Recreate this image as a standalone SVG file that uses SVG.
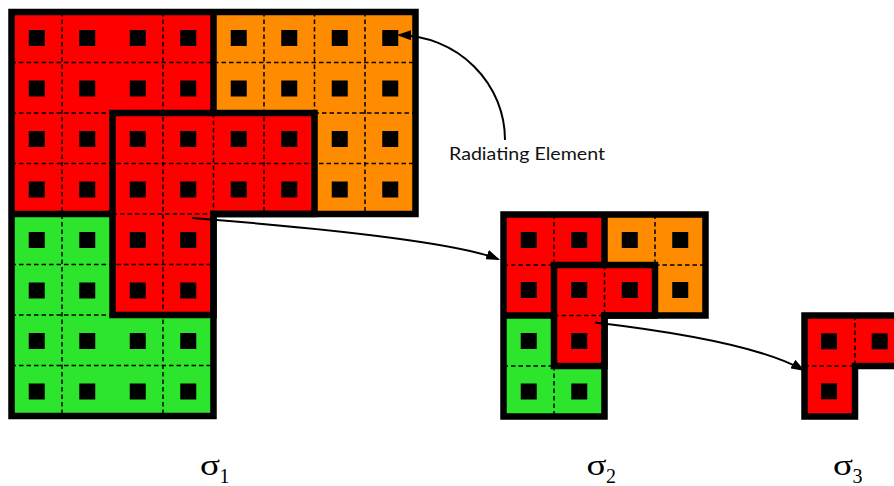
<svg xmlns="http://www.w3.org/2000/svg" width="894" height="486" viewBox="0 0 894 486">
  <defs>
    <style>
      .red { fill: #FF0000; }
      .orange { fill: #FF8C00; }
      .green { fill: #2EE52E; }
      .sq { fill: #000000; }
      .dash { fill: none; stroke: #000000; stroke-width: 1.5; stroke-dasharray: 4.5 3; }
      .edge { fill: none; stroke: #000000; stroke-width: 6.5; stroke-linejoin: miter; }
      .conn { fill: none; stroke: #000000; stroke-width: 2; }
      .sig { font-family: "Liberation Serif", "Times New Roman", serif; font-size: 30px; fill: #000000; }
      .sub { font-family: "Liberation Serif", "Times New Roman", serif; font-size: 20px; fill: #000000; }
      .note { font-family: Lato, "Liberation Sans", sans-serif; font-size: 18px; fill: #111111; }
    </style>
    <marker id="arrow" viewBox="0 0 14 10" refX="12" refY="5" markerWidth="14" markerHeight="10" markerUnits="userSpaceOnUse" orient="auto">
      <path d="M0,0 L14,5 L0,10 Z" fill="#000000"/>
    </marker>
  </defs>

  <rect width="894" height="486" fill="#FFFFFF"/>

  <!-- sigma 1: 8x8 array with an L-shaped sub-array -->
  <g id="sigma1">
    <rect class="orange" x="213.5" y="12" width="202" height="202"/>
    <rect class="green" x="11.5" y="214" width="202" height="202"/>
    <rect class="red" x="11.5" y="12" width="202" height="202"/>
    <path class="red" d="M112.5,113 H314.5 V214 H213.5 V315 H112.5 Z"/>
    <path class="dash" d="M62,12 V416 M163,12 V416 M213.5,113 V214 M264,12 V214 M314.5,12 V113 M365,12 V214
      M11.5,62.5 H415.5 M11.5,113 H112.5 M314.5,113 H415.5 M11.5,163.5 H415.5 M112.5,214 H213.5
      M11.5,264.5 H213.5 M11.5,315 H112.5 M11.5,365.5 H213.5"/>
    <g class="sq">
      <rect x="28.75" y="30" width="16" height="16"/><rect x="79.25" y="30" width="16" height="16"/><rect x="129.75" y="30" width="16" height="16"/><rect x="180.25" y="30" width="16" height="16"/>
      <rect x="230.75" y="30" width="16" height="16"/><rect x="281.25" y="30" width="16" height="16"/><rect x="331.75" y="30" width="16" height="16"/><rect x="382.25" y="30" width="16" height="16"/>
      <rect x="28.75" y="80.5" width="16" height="16"/><rect x="79.25" y="80.5" width="16" height="16"/><rect x="129.75" y="80.5" width="16" height="16"/><rect x="180.25" y="80.5" width="16" height="16"/>
      <rect x="230.75" y="80.5" width="16" height="16"/><rect x="281.25" y="80.5" width="16" height="16"/><rect x="331.75" y="80.5" width="16" height="16"/><rect x="382.25" y="80.5" width="16" height="16"/>
      <rect x="28.75" y="131" width="16" height="16"/><rect x="79.25" y="131" width="16" height="16"/><rect x="129.75" y="131" width="16" height="16"/><rect x="180.25" y="131" width="16" height="16"/>
      <rect x="230.75" y="131" width="16" height="16"/><rect x="281.25" y="131" width="16" height="16"/><rect x="331.75" y="131" width="16" height="16"/><rect x="382.25" y="131" width="16" height="16"/>
      <rect x="28.75" y="181.5" width="16" height="16"/><rect x="79.25" y="181.5" width="16" height="16"/><rect x="129.75" y="181.5" width="16" height="16"/><rect x="180.25" y="181.5" width="16" height="16"/>
      <rect x="230.75" y="181.5" width="16" height="16"/><rect x="281.25" y="181.5" width="16" height="16"/><rect x="331.75" y="181.5" width="16" height="16"/><rect x="382.25" y="181.5" width="16" height="16"/>
      <rect x="28.75" y="232" width="16" height="16"/><rect x="79.25" y="232" width="16" height="16"/><rect x="129.75" y="232" width="16" height="16"/><rect x="180.25" y="232" width="16" height="16"/>
      <rect x="28.75" y="282.5" width="16" height="16"/><rect x="79.25" y="282.5" width="16" height="16"/><rect x="129.75" y="282.5" width="16" height="16"/><rect x="180.25" y="282.5" width="16" height="16"/>
      <rect x="28.75" y="333" width="16" height="16"/><rect x="79.25" y="333" width="16" height="16"/><rect x="129.75" y="333" width="16" height="16"/><rect x="180.25" y="333" width="16" height="16"/>
      <rect x="28.75" y="383.5" width="16" height="16"/><rect x="79.25" y="383.5" width="16" height="16"/><rect x="129.75" y="383.5" width="16" height="16"/><rect x="180.25" y="383.5" width="16" height="16"/>
    </g>
    <path class="edge" d="M11.5,12 H415.5 V214 H213.5 V416 H11.5 Z"/>
    <path class="edge" d="M213.5,12 V113 M11.5,214 H112.5"/>
    <path class="edge" d="M112.5,113 H314.5 V214 H213.5 V315 H112.5 Z"/>
  </g>

  <!-- sigma 2: 4x4 array -->
  <g id="sigma2">
    <rect class="red" x="503.5" y="214.5" width="101" height="101"/>
    <rect class="orange" x="604.5" y="214.5" width="101" height="101"/>
    <rect class="green" x="503.5" y="315.5" width="101" height="101"/>
    <path class="red" d="M554,265 H655 V315.5 H604.5 V366 H554 Z"/>
    <path class="dash" d="M554,214.5 V265 M554,366 V416.5 M655,214.5 V265 M604.5,265 V315.5
      M503.5,265 H554 M655,265 H705.5 M554,315.5 H604.5 M503.5,366 H554"/>
    <g class="sq">
      <rect x="520.75" y="232" width="16" height="16"/><rect x="571.25" y="232" width="16" height="16"/><rect x="621.75" y="232" width="16" height="16"/><rect x="672.25" y="232" width="16" height="16"/>
      <rect x="520.75" y="282" width="16" height="16"/><rect x="571.25" y="282" width="16" height="16"/><rect x="621.75" y="282" width="16" height="16"/><rect x="672.25" y="282" width="16" height="16"/>
      <rect x="520.75" y="333" width="16" height="16"/><rect x="571.25" y="333" width="16" height="16"/>
      <rect x="520.75" y="383.5" width="16" height="16"/><rect x="571.25" y="383.5" width="16" height="16"/>
    </g>
    <path class="edge" d="M503.5,214.5 H705.5 V315.5 H604.5 V416.5 H503.5 Z"/>
    <path class="edge" d="M604.5,214.5 V265 M503.5,315.5 H554"/>
    <path class="edge" d="M554,265 H655 V315.5 H604.5 V366 H554 Z"/>
  </g>

  <!-- sigma 3: L-shaped 2x2 array -->
  <g id="sigma3">
    <path class="red" d="M804.5,315.5 H905 V366 H855 V416.5 H804.5 Z"/>
    <path class="dash" d="M855,315.5 V366 M804.5,366 H855"/>
    <g class="sq">
      <rect x="821" y="333.3" width="16" height="16"/><rect x="871.7" y="333.3" width="16" height="16"/>
      <rect x="821" y="383.3" width="16" height="16"/>
    </g>
    <path class="edge" d="M804.5,315.5 H905 V366 H855 V416.5 H804.5 Z"/>
  </g>

  <!-- connectors -->
  <g id="connectors">
    <path class="conn" d="M192,218 Q446,238 498.2,259.2" marker-end="url(#arrow)"/>
    <path class="conn" d="M595,322.5 Q752,341 803.3,370" marker-end="url(#arrow)"/>
    <path class="conn" d="M505,140 A108,105 0 0 0 399,35" marker-end="url(#arrow)"/>
  </g>

  <!-- labels -->
  <g id="label-radiating">
    <text class="note" x="449" y="160" textLength="156" lengthAdjust="spacingAndGlyphs">Radiating Element</text>
  </g>
  <g id="label-sigma1">
    <text class="sig" x="200" y="475" textLength="20" lengthAdjust="spacingAndGlyphs">σ</text>
    <text class="sub" x="219.5" y="483">1</text>
  </g>
  <g id="label-sigma2">
    <text class="sig" x="586.5" y="475" textLength="20" lengthAdjust="spacingAndGlyphs">σ</text>
    <text class="sub" x="606" y="483">2</text>
  </g>
  <g id="label-sigma3">
    <text class="sig" x="833" y="475" textLength="20" lengthAdjust="spacingAndGlyphs">σ</text>
    <text class="sub" x="852.5" y="483">3</text>
  </g>
</svg>
